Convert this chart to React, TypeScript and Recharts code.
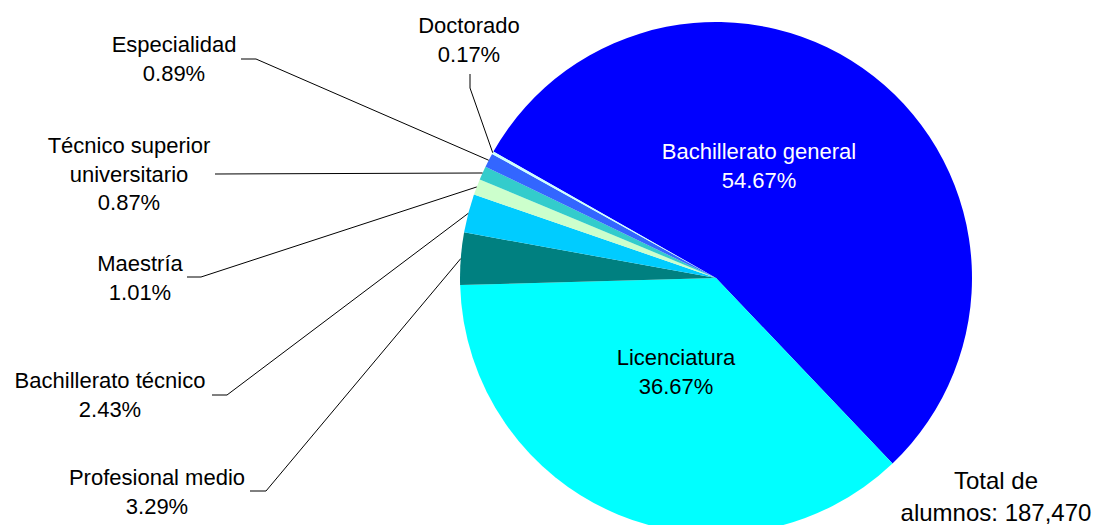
import React from 'react';
import { PieChart, Pie, Cell } from 'recharts';

const categories = [
  'Bachillerato general',
  'Licenciatura',
  'Profesional medio',
  'Bachillerato técnico',
  'Maestría',
  'Técnico superior universitario',
  'Especialidad',
  'Doctorado',
];
const shares = [54.67, 36.67, 3.29, 2.43, 1.01, 0.87, 0.89, 0.17];
const labelLines = [
  ['Bachillerato general'],
  ['Licenciatura'],
  ['Profesional medio'],
  ['Bachillerato técnico'],
  ['Maestría'],
  ['Técnico superior', 'universitario'],
  ['Especialidad'],
  ['Doctorado'],
];
const TOTAL = 187470;
const totalLines = ['Total de', `alumnos: ${TOTAL.toLocaleString('en-US')}`];

const colors = ['#0000FF', '#00FFFF', '#008080', '#00CCFF', '#CCFFCC', '#33CCCC', '#3366FF', '#CCFFFF'];

// label layout (text centre x, first baseline y, text colour, leader-line elbow points)
const LAYOUT: { x: number; y: number; fill: string; elbow: number[][] | null }[] = [
  { x: 759, y: 159, fill: '#FFFFFF', elbow: null },
  { x: 676, y: 365, fill: '#000000', elbow: null },
  { x: 157, y: 485, fill: '#000000', elbow: [[250, 491], [266, 491]] },
  { x: 110, y: 388, fill: '#000000', elbow: [[212, 395], [227, 395]] },
  { x: 140, y: 271, fill: '#000000', elbow: [[187, 277], [201, 277]] },
  { x: 129, y: 153, fill: '#000000', elbow: [[215, 174]] },
  { x: 174, y: 52, fill: '#000000', elbow: [[241, 59], [256, 59]] },
  { x: 469, y: 33, fill: '#000000', elbow: [[470, 74], [470, 88]] },
];

const data = categories.map((name, i) => ({ name, value: shares[i] }));

const FONT = '"Liberation Sans", Arial, sans-serif';
const RAD = Math.PI / 180;

const renderLabel = (props: any) => {
  const { cx, cy, midAngle, outerRadius, index } = props;
  const lay = LAYOUT[index];
  const ex = cx + outerRadius * Math.cos(-midAngle * RAD);
  const ey = cy + outerRadius * Math.sin(-midAngle * RAD);
  const lines = [...labelLines[index], `${shares[index].toFixed(2)}%`];
  return (
    <g key={`lab-${index}`}>
      {lay.elbow && (
        <polyline
          points={[...lay.elbow, [ex, ey]].map((p) => p.join(',')).join(' ')}
          fill="none"
          stroke="#000"
          strokeWidth={1}
        />
      )}
      <text textAnchor="middle" fill={lay.fill} fontFamily={FONT} fontSize={22}>
        {lines.map((l, i) => (
          <tspan key={i} x={lay.x} y={lay.y + i * 28.5}>
            {l}
          </tspan>
        ))}
      </text>
    </g>
  );
};

export default function App() {
  return (
    <div style={{ position: 'absolute', left: 0, top: 0, width: 1097, height: 525, background: '#fff' }}>
      <PieChart width={1097} height={525} margin={{ top: 0, right: 0, bottom: 0, left: 0 }}>
        <Pie
          data={data}
          dataKey="value"
          nameKey="name"
          cx={716}
          cy={278}
          outerRadius={256}
          startAngle={150.4}
          endAngle={-209.6}
          stroke="none"
          label={renderLabel}
          labelLine={false}
          isAnimationActive={false}
        >
          {data.map((d, i) => (
            <Cell key={d.name} fill={colors[i]} />
          ))}
        </Pie>
      </PieChart>
      <svg width={1097} height={525} style={{ position: 'absolute', left: 0, top: 0, pointerEvents: 'none' }}>
        <text textAnchor="middle" fontFamily={FONT} fontSize={24} fill="#000">
          {totalLines.map((l, i) => (
            <tspan key={i} x={996} y={489 + i * 32}>
              {l}
            </tspan>
          ))}
        </text>
      </svg>
    </div>
  );
}
